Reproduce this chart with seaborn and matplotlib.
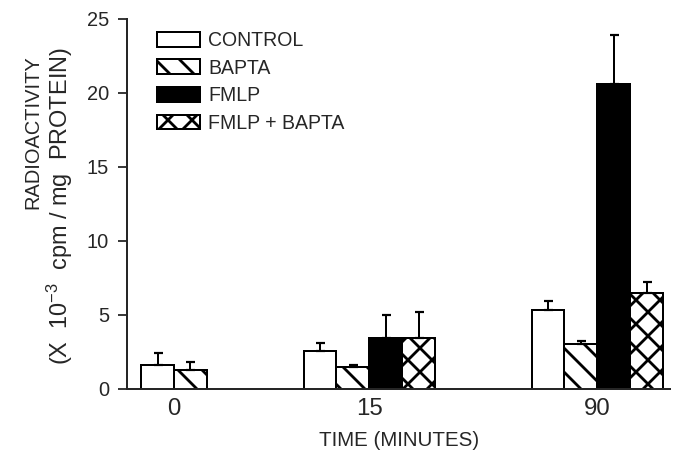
import numpy as np
import pandas as pd
import matplotlib
matplotlib.use('Agg')
import matplotlib.pyplot as plt
import seaborn as sns
from matplotlib.patches import Patch

# data (x 10^-3 cpm/mg protein)
times = ['0', '15', '90']
treatments = ['CONTROL', 'BAPTA', 'FMLP', 'FMLP + BAPTA']
control = [1.65, 2.55, 5.35]
bapta = [1.3, 1.5, 3.05]
fmlp = [np.nan, 3.45, 20.6]
fmlp_bapta = [np.nan, 3.45, 6.5]
control_err = [0.75, 0.55, 0.6]
bapta_err = [0.5, 0.1, 0.2]
fmlp_err = [np.nan, 1.55, 3.35]
fmlp_bapta_err = [np.nan, 1.75, 0.7]

# layout: where each time group sits on the x axis
group_pos = [2.46, 7.40, 14.34]

rows = []
for t, pos, vals, errs in zip(times, group_pos,
                              zip(control, bapta, fmlp, fmlp_bapta),
                              zip(control_err, bapta_err, fmlp_err, fmlp_bapta_err)):
    for trt, v, e in zip(treatments, vals, errs):
        rows.append({'time': t, 'pos': pos, 'treatment': trt, 'value': v, 'err': e})
df = pd.DataFrame(rows).dropna().sort_values('pos')

sns.set_style('ticks')
plt.rcParams['font.family'] = ['Liberation Sans', 'DejaVu Sans']
plt.rcParams['mathtext.default'] = 'regular'
plt.rcParams['hatch.linewidth'] = 2.8
plt.rcParams['hatch.color'] = 'black'

fig = plt.figure(figsize=(677 / 72, 457 / 72), dpi=72)
ax = fig.add_axes([127 / 677, 68 / 457, 543 / 677, 370 / 457])

palette = {'CONTROL': 'white', 'BAPTA': 'white', 'FMLP': 'black', 'FMLP + BAPTA': 'white'}
hatches = {'CONTROL': '', 'BAPTA': '\\', 'FMLP': '', 'FMLP + BAPTA': 'x'}

sns.barplot(data=df, x='pos', y='value', hue='treatment', hue_order=treatments,
            palette=palette, native_scale=True, width=4 / 4.94, saturation=1,
            errorbar=None, edgecolor='black', linewidth=2, legend=False, ax=ax)

# hatches + one-sided error bars on top of each bar
centers = {}
for trt, cont in zip(treatments, ax.containers):
    sub = df[df['treatment'] == trt]
    xs = []
    for bar in cont:
        bar.set_hatch(hatches[trt])
        xs.append(bar.get_x() + bar.get_width() / 2)
    for t, x in zip(sub['time'], xs):
        centers.setdefault(t, []).append(x)
    ax.errorbar(xs, sub['value'], yerr=[np.zeros(len(sub)), sub['err']],
                fmt='none', ecolor='black', elinewidth=2, capsize=4.5, capthick=2.2)

ax.set_xlim(0.03, 16.55)
ax.set_ylim(0, 25)
ax.set_yticks([0, 5, 10, 15, 20, 25])
ax.set_xticks([np.mean(centers[t]) for t in times])
ax.set_xticklabels(times)
ax.tick_params(axis='x', length=0, pad=9, labelsize=24)
ax.tick_params(axis='y', length=9, width=1.8, pad=9, labelsize=20)
ax.set_xlabel('')
ax.set_ylabel('')
sns.despine(ax=ax)
for side in ['left', 'bottom']:
    ax.spines[side].set_linewidth(2)

fig.text(399 / 677, 1 - 441 / 457, 'TIME (MINUTES)', ha='center', va='center', fontsize=20.5)
fig.text(33 / 677, 1 - 132 / 457, 'RADIOACTIVITY', ha='center', va='center',
         rotation=90, fontsize=20)
fig.text(60 / 677, 1 - 206 / 457, r'(X  10$^{-3}$  cpm / mg  PROTEIN)', ha='center',
         va='center', rotation=90, fontsize=23.5)

handles = [Patch(facecolor=palette[t], edgecolor='black', hatch=hatches[t], linewidth=2)
           for t in treatments]
fig.legend(handles, treatments, loc='upper left', bbox_to_anchor=(157 / 677, 1 - 31 / 457),
           frameon=False, fontsize=19.5, handlelength=2.2, handleheight=0.78,
           handletextpad=0.42, labelspacing=0.44, borderpad=0, borderaxespad=0)

fig.savefig('out.png', dpi=72)
